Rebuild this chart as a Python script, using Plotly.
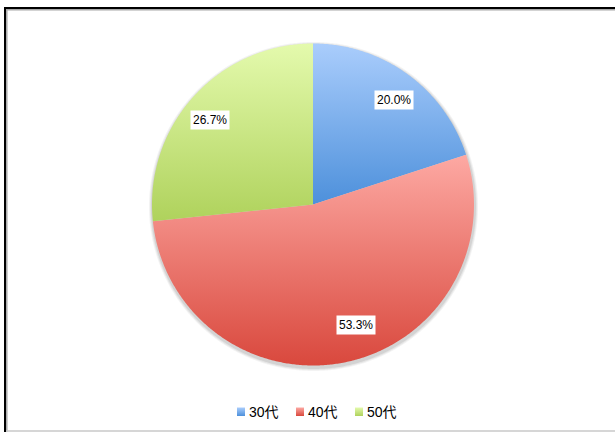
import numpy as np
import plotly.graph_objects as go

# Respondents by age group
categories = ["30代", "40代", "50代"]
counts = [3, 8, 4]

# Slice gradient colours (top, bottom)
top_colors = ["#aacdfc", "#fda9a3", "#e4faad"]
bottom_colors = ["#4d90db", "#d9483d", "#afd25c"]

W, H = 615, 432
CX, CY, R = 313.0, 204.5, 161.0      # pie centre / radius in pixels
LABEL_FRAC = 0.81                    # label distance as a fraction of radius
LABEL_NUDGE = [(4, 1), (16, -7), (-6, 3)]


def to_y(py):
    return H - py


def arc_xy(a0, a1, r=R, cx=CX, cy=CY, with_center=True):
    th = np.radians(np.linspace(a0, a1, max(int(abs(a1 - a0) * 2), 4)))
    xs = cx + r * np.sin(th)
    ys = to_y(cy) + r * np.cos(th)
    if with_center:
        xs = np.concatenate([[cx], xs, [cx]])
        ys = np.concatenate([[to_y(cy)], ys, [to_y(cy)]])
    return xs, ys


fig = go.Figure()

# soft drop shadow under the pie
for k, op in [(3.5, 0.07), (2.5, 0.09), (1.5, 0.13)]:
    xs, ys = arc_xy(0, 360, r=R + k, cx=CX + 0.5, cy=CY + 2.0, with_center=False)
    fig.add_trace(go.Scatter(x=xs, y=ys, fill="toself", mode="none",
                             fillcolor=f"rgba(90,90,90,{op})",
                             hoverinfo="skip", showlegend=False))

total = sum(counts)
pcts = [c / total * 100 for c in counts]
angle = 0.0
for i, (cat, p) in enumerate(zip(categories, pcts)):
    a0, a1 = angle, angle + p * 3.6
    xs, ys = arc_xy(a0, a1)
    fig.add_trace(go.Scatter(
        x=xs, y=ys, fill="toself", mode="none", name=cat,
        fillgradient=dict(type="vertical",
                          colorscale=[[0, bottom_colors[i]], [1, top_colors[i]]]),
        hoverinfo="skip", showlegend=False))
    mid = np.radians((a0 + a1) / 2)
    lx = CX + R * LABEL_FRAC * np.sin(mid) + LABEL_NUDGE[i][0]
    ly = CY - R * LABEL_FRAC * np.cos(mid) + LABEL_NUDGE[i][1]
    fig.add_annotation(x=lx, y=to_y(ly), text=f"{p:.1f}%", showarrow=False,
                       font=dict(family="Liberation Sans", size=12, color="#000000"),
                       bgcolor="#ffffff", borderpad=2)
    angle = a1

# legend: gradient swatches + labels
LEG_X0, LEG_STEP, LEG_Y = 237.0, 59.0, 412.0
for i, cat in enumerate(categories):
    sx = LEG_X0 + i * LEG_STEP
    fig.add_trace(go.Scatter(
        x=[sx, sx + 8, sx + 8, sx, sx], y=[to_y(LEG_Y - 4.5), to_y(LEG_Y - 4.5), to_y(LEG_Y + 4), to_y(LEG_Y + 4), to_y(LEG_Y - 4.5)],
        fill="toself", mode="none",
        fillgradient=dict(type="vertical",
                          colorscale=[[0, bottom_colors[i]], [1, top_colors[i]]]),
        hoverinfo="skip", showlegend=False))
    fig.add_annotation(x=sx + 10, y=to_y(LEG_Y), text=cat, showarrow=False,
                       xanchor="left", yanchor="middle",
                       font=dict(family="Liberation Sans, Noto Sans CJK JP", size=14, color="#000000"))

# chart frame
shapes = [
    dict(type="line", x0=4, x1=W, y0=to_y(8), y1=to_y(8), line=dict(color="#000000", width=2)),
    dict(type="line", x0=5, x1=5, y0=to_y(7), y1=to_y(H), line=dict(color="#000000", width=2)),
    dict(type="line", x0=6, x1=W, y0=to_y(9.8), y1=to_y(9.8), line=dict(color="#a8a8a8", width=1.5)),
    dict(type="line", x0=6.8, x1=6.8, y0=to_y(9), y1=to_y(H), line=dict(color="#a8a8a8", width=1.5)),
    dict(type="line", x0=6, x1=W, y0=to_y(431), y1=to_y(431), line=dict(color="#c8c8c8", width=1.5)),
]
for s in shapes:
    s.update(xref="x", yref="y", layer="above")

fig.update_layout(
    width=W, height=H,
    margin=dict(l=0, r=0, t=0, b=0),
    paper_bgcolor="#ffffff", plot_bgcolor="#ffffff",
    xaxis=dict(range=[0, W], visible=False, fixedrange=True),
    yaxis=dict(range=[0, H], visible=False, fixedrange=True),
    shapes=shapes,
    showlegend=False,
)

fig.write_html("out.html")
